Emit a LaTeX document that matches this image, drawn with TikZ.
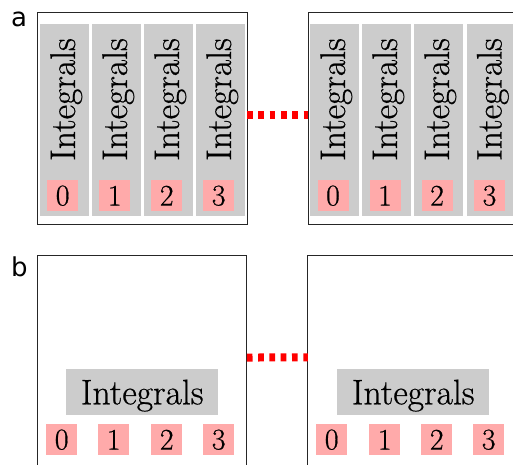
\documentclass[tikz,border=0pt]{standalone}
\usepackage{fontspec}
\usetikzlibrary{calc}
\newfontfamily\panelfont{DejaVu Sans}
\newfontfamily\wordfont{Latin Modern Roman}[FakeBold=0.6]
\definecolor{idxpink}{HTML}{FFAAAA}
\definecolor{slotgray}{HTML}{CCCCCC}
\begin{document}
\begin{tikzpicture}[x=1pt,y=-1pt,
  panel/.style={draw=black!85, line width=0.9pt, inner sep=0pt, outer sep=0pt, anchor=north west},
  slot/.style={fill=slotgray, inner sep=0pt, anchor=north west,
    minimum width=48.7pt, minimum height=191.7pt},
  idx/.style={fill=idxpink, inner sep=0pt, anchor=north west,
    minimum width=31pt, minimum height=31pt, font=\wordfont\fontsize{30}{32}\selectfont},
  vword/.style={rotate=90, anchor=base, inner sep=0pt, font=\wordfont\fontsize{35.5}{40}\selectfont},
  hword/.style={anchor=base, inner sep=0pt, font=\wordfont\fontsize{35.5}{40}\selectfont},
  wordbox/.style={fill=slotgray, inner sep=0pt, anchor=north west,
    minimum width=152pt, minimum height=46pt},
  gap/.style={red, line width=8pt, dash pattern=on 5.7pt off 5.6pt},
  tag/.style={inner sep=0pt, font=\panelfont\fontsize{26}{28}\selectfont}
]
\useasboundingbox (0,0) rectangle (513,464);
\clip (0,0) rectangle (513,464);

% ---------- panel a ----------
\node[tag] (taga) at (19,19.5) {a};
\node[panel, minimum width=209.3pt, minimum height=211.7pt] (pa1) at (37.7,12.3) {};
\node[panel, minimum width=240pt, minimum height=211.7pt] (pa2) at (308.3,12.3) {};

\foreach \x [count=\i from 0] in {40,92,144,196} {
  \node[slot] (sa1\i) at (\x,24) {};
  \node[vword] (wa1\i) at (\x+35,99.5) {Integrals};
  \node[idx] (ia1\i) at (\x+7,180) {\i};
}
\foreach \x [count=\i from 0] in {310,362,414,466.5} {
  \node[slot] (sa2\i) at (\x,24) {};
  \node[vword] (wa2\i) at (\x+35,99.5) {Integrals};
  \node[idx] (ia2\i) at (\x+7.3,180) {\i};
}

\draw[gap] ($(pa1.north east)!0.483!(pa1.south east)$) -- ($(pa2.north west)!0.483!(pa2.south west)$);

% ---------- panel b ----------
\node[tag] (tagb) at (19.5,266.5) {b};
\node[panel, minimum width=209.5pt, minimum height=224.3pt] (pb1) at (37.3,255.7) {};
\node[panel, minimum width=240pt, minimum height=224.3pt] (pb2) at (307.8,255.5) {};

\node[wordbox] (bb1) at (66,369) {};
\node[hword] (wb1) at (bb1.center |- 0,404.3) {Integrals};
\node[wordbox] (bb2) at (337,369) {};
\node[hword] (wb2) at (bb2.center |- 0,404.3) {Integrals};

\foreach \x [count=\i from 0] in {46,98,151,203} {
  \node[idx] (ib1\i) at (\x,424) {\i};
}
\foreach \x [count=\i from 0] in {316,369,421,473} {
  \node[idx] (ib2\i) at (\x,424) {\i};
}

\draw[gap] ($(pb1.north east)!0.454!(pb1.south east)$) -- ($(pb2.north west)!0.454!(pb2.south west)$);
\end{tikzpicture}
\end{document}
